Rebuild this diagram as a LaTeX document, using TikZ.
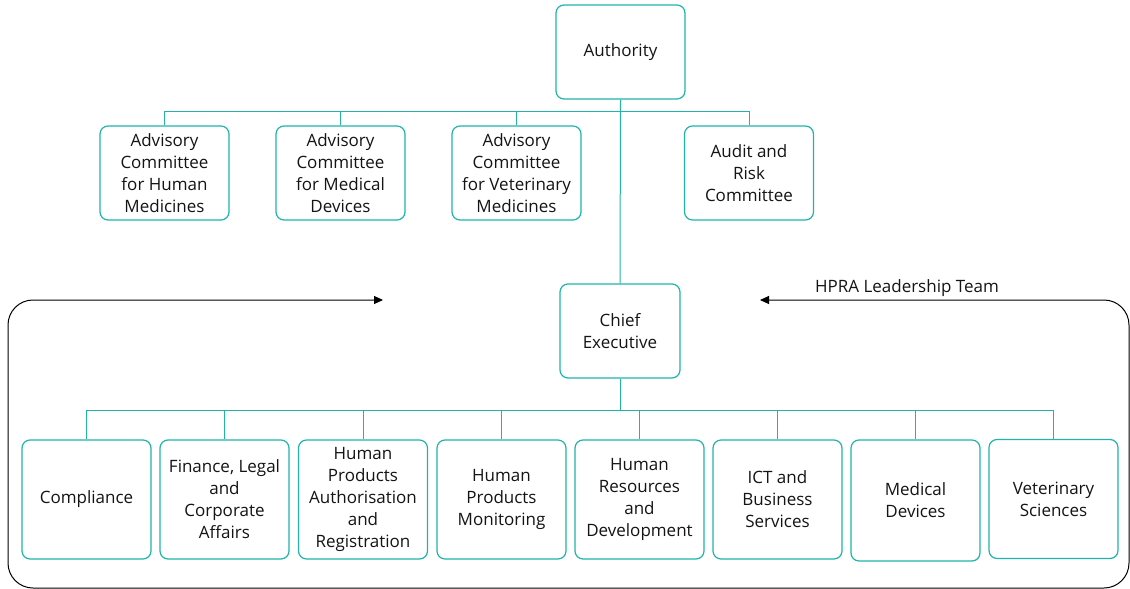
\documentclass[tikz,border=0pt]{standalone}
\usepackage{fontspec}
\setmainfont{Open Sans}
\usetikzlibrary{arrows.meta}
\definecolor{teal1}{RGB}{32,180,170}
\definecolor{txt}{RGB}{20,20,20}
\tikzset{
  box/.style={draw=teal1, line width=1.2pt, rounded corners=8pt, fill=white,
    align=center, text=txt, font=\fontsize{17}{22}\selectfont, inner sep=0pt},
  topbox/.style={box, minimum width=129pt, minimum height=94pt},
  dept/.style={box, minimum width=129pt, minimum height=119pt},
  conn/.style={draw=teal1, line width=1pt},
  bracket/.style={draw=black, line width=1pt, rounded corners=25pt},
}
\begin{document}
\begin{tikzpicture}[x=1pt,y=-1pt]
\useasboundingbox (0,0) rectangle (1130,589);
% leadership bracket
\coordinate (la) at (383,300);
\coordinate (ra) at (760,300);
\draw[bracket, {Triangle[length=9pt,width=8pt]}-{Triangle[length=9pt,width=8pt]}]
  (la) -- (8,300) -- (8,588) -- (1129,588) -- (1129,300) -- (ra);
\node[text=txt, font=\fontsize{17}{20}\selectfont, anchor=center] (lt) at (907,288) {HPRA Leadership Team};
% top
\node[topbox] (auth) at (620.5,52) {Authority};
\node[topbox] (ac1) at (164.5,173) {Advisory\\Committee\\for Human\\Medicines};
\node[topbox] (ac2) at (340.5,173) {Advisory\\Committee\\for Medical\\Devices};
\node[topbox] (ac3) at (516.5,173) {Advisory\\Committee\\for Veterinary\\Medicines};
\node[topbox] (arc) at (749,173) {Audit and\\Risk\\Committee};
\node[box, minimum width=120pt, minimum height=94pt] (ce) at (620,331) {Chief\\Executive};
% departments
\node[dept] (d1) at (86.5,499.5) {Compliance};
\node[dept] (d2) at (224.5,499.5) {Finance, Legal\\and\\Corporate\\Affairs};
\node[dept] (d3) at (363,499.5) {Human\\Products\\Authorisation\\and\\Registration};
\node[dept] (d4) at (501.5,499.5) {Human\\Products\\Monitoring};
\node[dept] (d5) at (639.5,499.5) {Human\\Resources\\and\\Development};
\node[dept] (d6) at (777.5,499.5) {ICT and\\Business\\Services};
\node[dept, minimum height=121pt] (d7) at (915.5,500.5) {Medical\\Devices};
\node[dept] (d8) at (1053.5,499) {Veterinary\\Sciences};
% connectors
\coordinate (bus1) at (620.5,111);
\coordinate (bus2) at (620,410);
\draw[conn] (auth.south) -- (ce.north);
\foreach \n in {ac1,ac2,ac3,arc} \draw[conn] (\n.north) |- (bus1);
\draw[conn] (ce.south) -- (bus2);
\foreach \n in {d1,d2,d3,d4,d5,d6,d7,d8} \draw[conn] (\n.north) |- (bus2);
\end{tikzpicture}
\end{document}
